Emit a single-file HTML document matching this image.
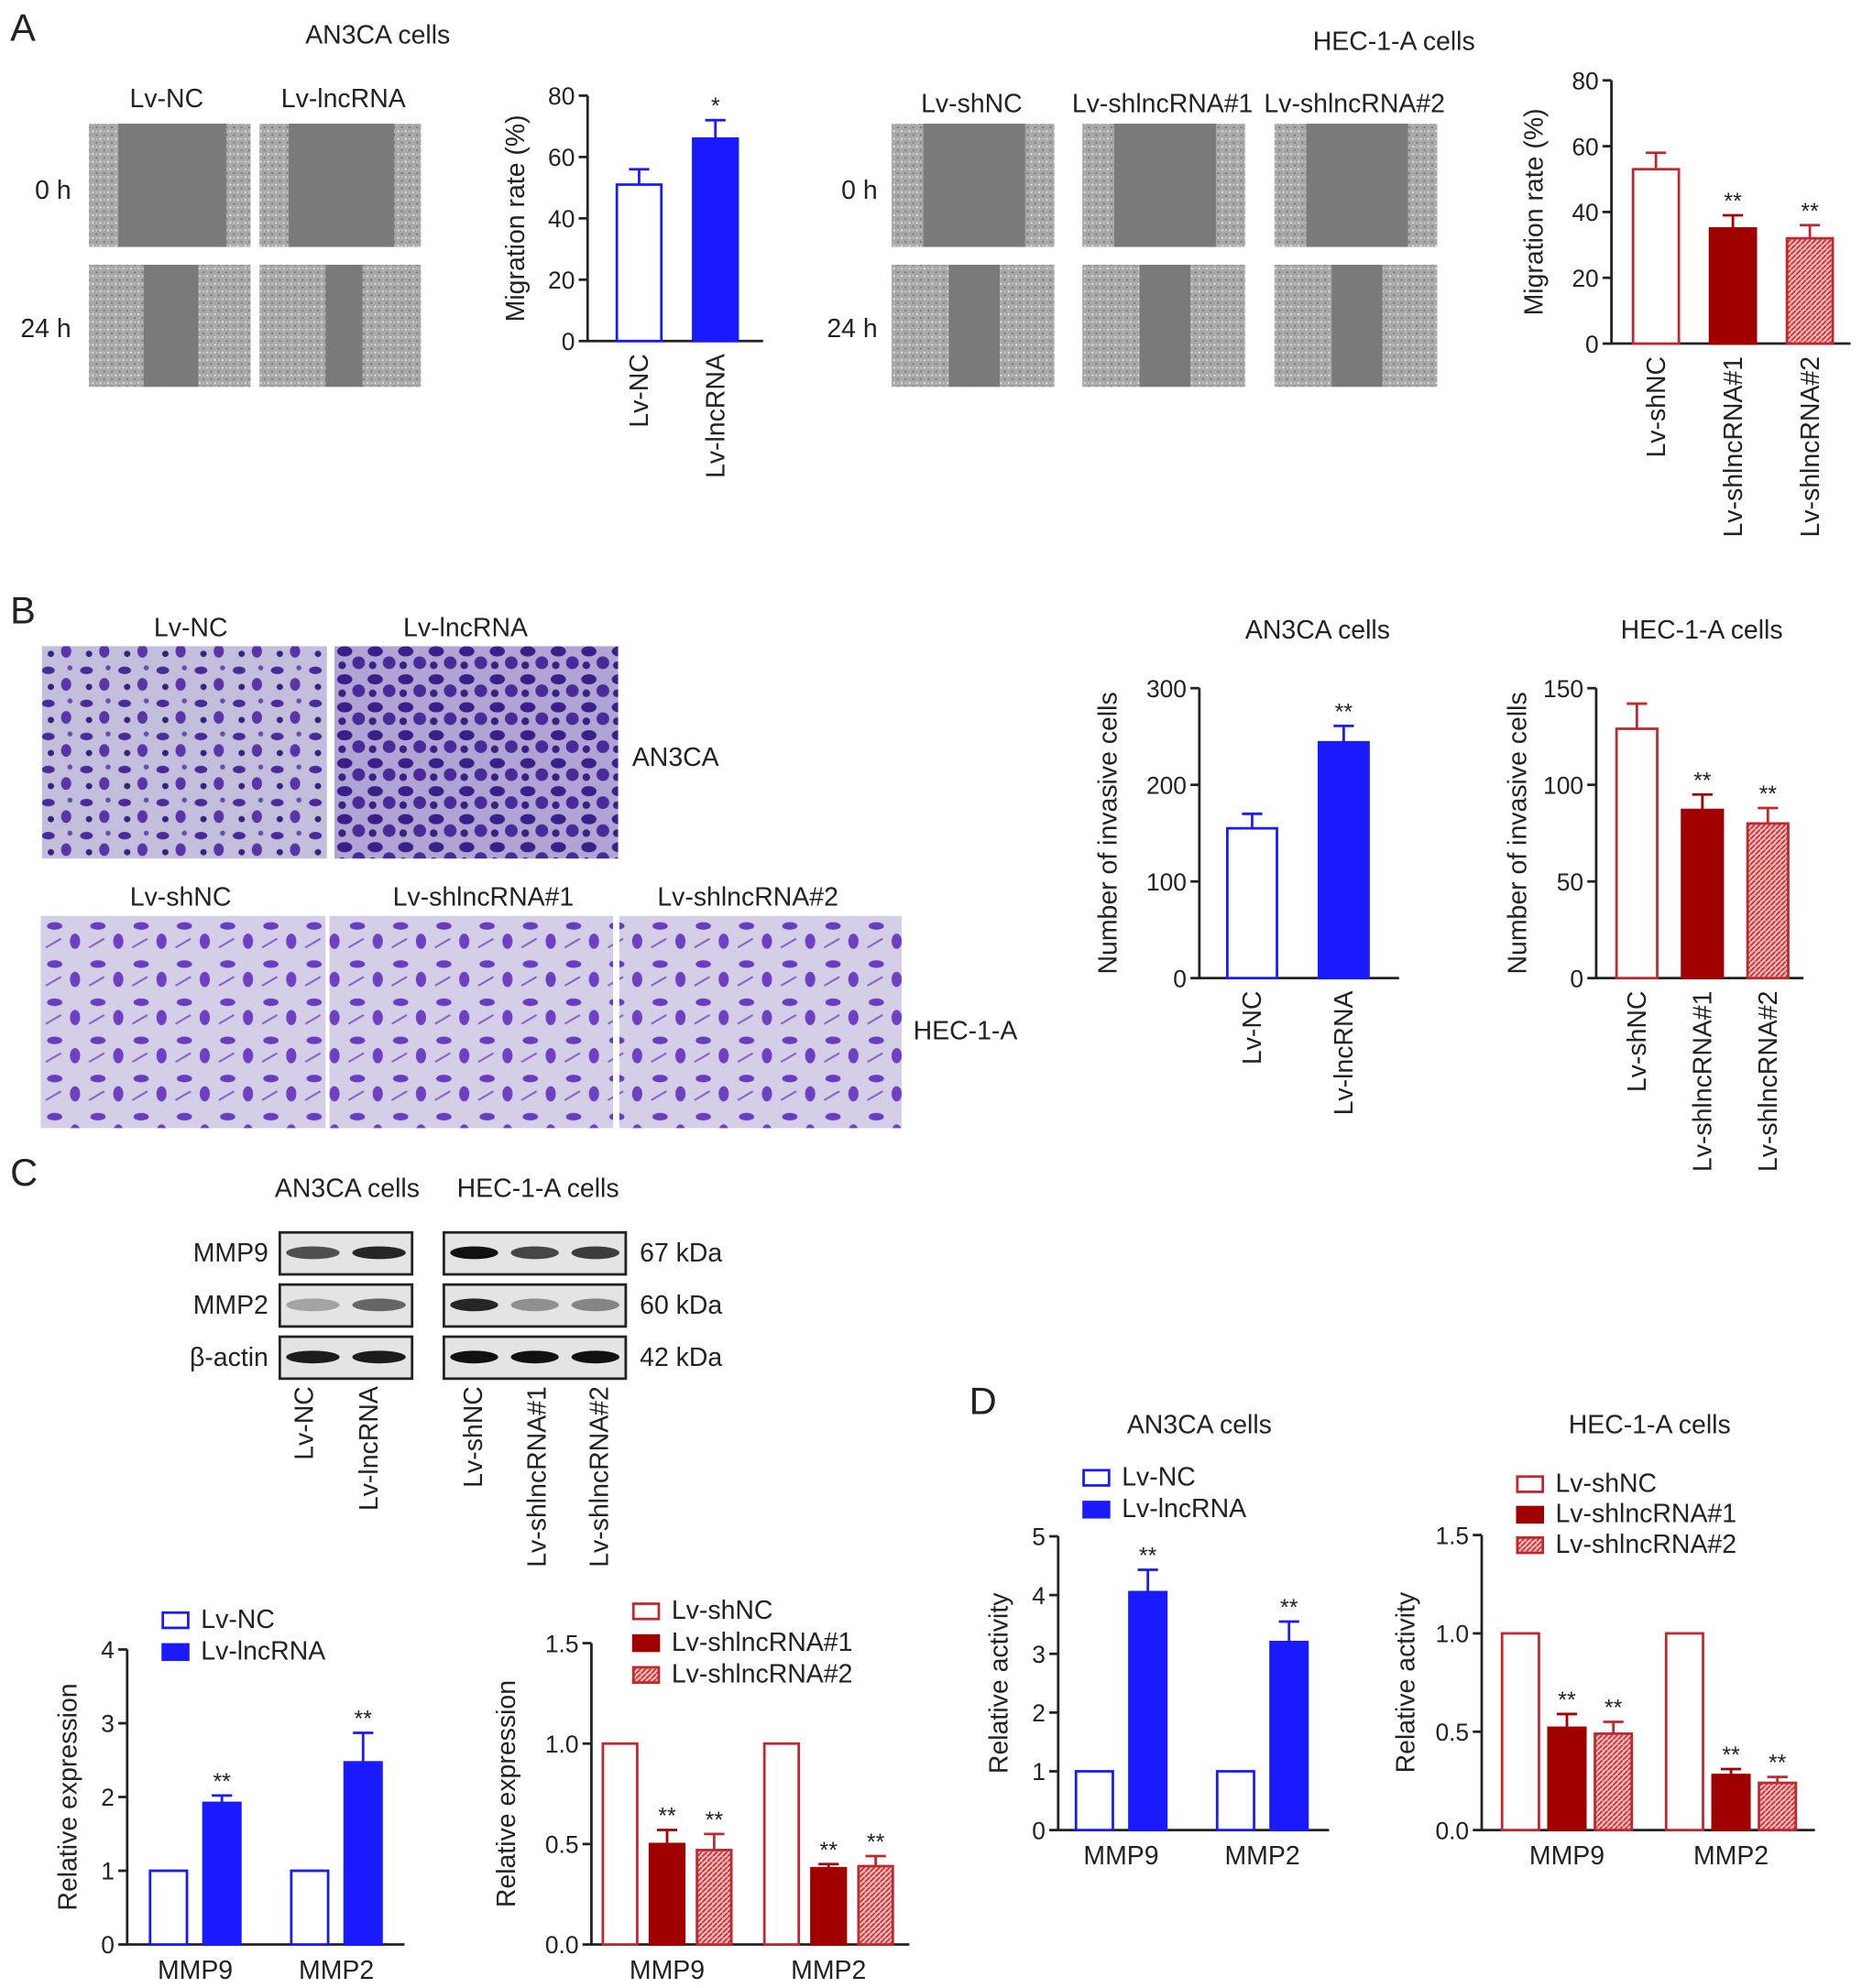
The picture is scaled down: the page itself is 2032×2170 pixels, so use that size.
<!DOCTYPE html>
<html><head><meta charset="utf-8"><style>
html,body{margin:0;padding:0;background:#fff}
svg{display:block}
text{font-family:"Liberation Sans",sans-serif;fill:#222}
</style></head><body>
<svg id="fig" width="2032" height="2170" viewBox="0 0 1464 1563" xmlns="http://www.w3.org/2000/svg">
<defs>
<pattern id="hatch" patternUnits="userSpaceOnUse" width="4" height="4"><rect width="4" height="4" fill="#f0b8b8"/><path d="M0,4 L4,0" stroke="#c0282d" stroke-width="1.2"/></pattern>
<pattern id="noise" patternUnits="userSpaceOnUse" width="6" height="6"><rect width="6" height="6" fill="#a8a8a8"/><circle cx="1" cy="1" r="0.8" fill="#e4e4e4"/><circle cx="4" cy="4" r="0.8" fill="#777"/><circle cx="4" cy="1" r="0.6" fill="#d4d4d4"/></pattern>
<pattern id="cells" patternUnits="userSpaceOnUse" width="30" height="26"><rect width="30" height="26" fill="#c4bedd"/><ellipse cx="8" cy="7" rx="5" ry="3" fill="#4a2a9a"/><ellipse cx="22" cy="18" rx="4" ry="5" fill="#5a34a8"/><circle cx="25" cy="5" r="2" fill="#6a4ab0"/><circle cx="10" cy="20" r="2.5" fill="#3a2080"/></pattern>
<pattern id="cells2" patternUnits="userSpaceOnUse" width="24" height="22"><rect width="24" height="22" fill="#b0a4d4"/><ellipse cx="7" cy="6" rx="6" ry="4" fill="#3a1e8a"/><ellipse cx="18" cy="15" rx="5" ry="5" fill="#4a2a9a"/><circle cx="5" cy="17" r="3" fill="#3a2080"/></pattern>
<pattern id="cells3" patternUnits="userSpaceOnUse" width="34" height="30"><rect width="34" height="30" fill="#d4cfe6"/><ellipse cx="9" cy="8" rx="6" ry="3" fill="#6a3cc0"/><ellipse cx="25" cy="20" rx="4" ry="6" fill="#7040c4"/><path d="M2,25 L14,18" stroke="#8a60c8" stroke-width="1.5"/></pattern>
</defs>
<g id="static"></g>
<g id="charts"></g>
</svg>
<script>
// ---------- chart data ----------
const A1_cats=['Lv-NC','Lv-lncRNA'];
const A1_vals=[51,66];
const A1_err=[5,6];
const A1_sig=['','*'];
const A1_ticks=[0,20,40,60,80];

const A2_cats=['Lv-shNC','Lv-shlncRNA#1','Lv-shlncRNA#2'];
const A2_vals=[53,35,32];
const A2_err=[5,4,4];
const A2_sig=['','**','**'];
const A2_ticks=[0,20,40,60,80];

const B1_cats=['Lv-NC','Lv-lncRNA'];
const B1_vals=[155,244];
const B1_err=[15,17];
const B1_sig=['','**'];
const B1_ticks=[0,100,200,300];

const B2_cats=['Lv-shNC','Lv-shlncRNA#1','Lv-shlncRNA#2'];
const B2_vals=[129,87,80];
const B2_err=[13,8,8];
const B2_sig=['','**','**'];
const B2_ticks=[0,50,100,150];

const groups=['MMP9','MMP2'];
const C1_vals=[[1,1.92],[1,2.47]];
const C1_err=[[0,0.1],[0,0.4]];
const C1_sig=[['','**'],['','**']];
const C1_ticks=['0','1','2','3','4'];

const C2_vals=[[1,0.5,0.47],[1,0.38,0.39]];
const C2_err=[[0,0.07,0.08],[0,0.02,0.05]];
const C2_sig=[['','**','**'],['','**','**']];
const C2_ticks=['0.0','0.5','1.0','1.5'];

const D1_vals=[[1,4.05],[1,3.2]];
const D1_err=[[0,0.38],[0,0.35]];
const D1_sig=[['','**'],['','**']];
const D1_ticks=['0','1','2','3','4','5'];

const D2_vals=[[1,0.52,0.49],[1,0.28,0.24]];
const D2_err=[[0,0.07,0.06],[0,0.03,0.03]];
const D2_sig=[['','**','**'],['','**','**']];
const D2_ticks=['0.0','0.5','1.0','1.5'];

const blueStyles=[{f:'#fff',s:'#1a1aff'},{f:'#1a1aff',s:'#1a1aff'}];
const redStyles=[{f:'#fff',s:'#c0282d'},{f:'#a00000',s:'#a00000'},{f:'url(#hatch)',s:'#c0282d'}];

const FS=20.5;
const NS='http://www.w3.org/2000/svg';
function mk(tag,attrs,parent,txt){const e=document.createElementNS(NS,tag);for(const k in attrs)e.setAttribute(k,attrs[k]);if(txt!==undefined)e.textContent=txt;parent.appendChild(e);return e;}
const C=document.getElementById('charts');
const S=document.getElementById('static');

function chart(o){
  const g=mk('g',{},C);
  
  
  const max=parseFloat(o.ticks[o.ticks.length-1]);
  const y=v=>o.y0-(v/max)*(o.y0-o.yT);
  const ax=mk('path',{d:`M${o.ax},${o.yT}V${o.y0}H${o.xEnd}`,stroke:'#222','stroke-width':2,fill:'none'},g);
  
  
  o.ticks.forEach(t=>{const v=parseFloat(t);
    mk('line',{x1:o.ax-7,x2:o.ax,y1:y(v),y2:y(v),stroke:'#222','stroke-width':2},g);
    const tl=mk('text',{x:o.ax-10,y:y(v)+7,'text-anchor':'end','font-size':19},g,t);
    
    
  });
  const yt=mk('text',{transform:`translate(${o.titleX},${(o.y0+o.yT)/2}) rotate(-90)`,'text-anchor':'middle','font-size':FS},g,o.title);
  
  
  const G=o.vals.length;
  for(let gi=0;gi<G;gi++){
    const row=o.vals[gi];
    for(let s=0;s<row.length;s++){
      const x=o.x0+gi*o.gstep+s*o.step, v=row[s], e=o.err[gi][s], st=o.styles[s];
      const b=mk('rect',{x:x,y:y(v),width:o.w,height:o.y0-y(v),fill:st.f,stroke:st.s,'stroke-width':2},g);
      
      
      if(e>0){const cx=x+o.w/2;
        mk('path',{d:`M${cx},${y(v)}V${y(v+e)}M${cx-8},${y(v+e)}H${cx+8}`,stroke:st.s,'stroke-width':2,fill:'none'},g);}
      const sg=o.sig[gi][s];
      if(sg){const t=mk('text',{x:x+o.w/2,y:y(v+e)-5,'text-anchor':'middle','font-size':18},g,sg);
        
        }
      if(o.rot){const cx=x+o.w/2;
        const t=mk('text',{transform:`translate(${cx+7},${o.y0+10}) rotate(-90)`,'text-anchor':'end','font-size':FS},g,o.cats[s]);
        
        }
    }
    if(!o.rot){const n=row.length;const cx=o.x0+gi*o.gstep+((n-1)*o.step+o.w)/2;
      const t=mk('text',{x:cx,y:o.y0+27,'text-anchor':'middle','font-size':FS},g,groups[gi]);
      
      }
  }
  if(o.legend){o.legend.forEach((l,i)=>{
    const ly=o.ly+i*o.lstep;
    const r=mk('rect',{x:o.lx,y:ly-12,width:20,height:12,fill:o.styles[i].f,stroke:o.styles[i].s,'stroke-width':2},g);
    
    
    const t=mk('text',{x:o.lx+30,y:ly,'font-size':FS},g,l);
    
    
  });}
}
function single(vals,err,sig){return {vals:[vals],err:[err],sig:[sig]};}

chart(Object.assign({name:'chart-a-an3ca-migration',ax:462,y0:268,yT:75,xEnd:600,ticks:A1_ticks,title:'Migration rate (%)',titleX:412,x0:485,step:60,w:35,gstep:0,styles:blueStyles,rot:true,cats:A1_cats},single(A1_vals,A1_err,A1_sig)));
chart(Object.assign({name:'chart-a-hec-migration',ax:1267,y0:270,yT:63,xEnd:1455,ticks:A2_ticks,title:'Migration rate (%)',titleX:1213,x0:1284,step:60.5,w:36,gstep:0,styles:redStyles,rot:true,cats:A2_cats},single(A2_vals,A2_err,A2_sig)));
chart(Object.assign({name:'chart-b-an3ca-invasion',ax:943,y0:769,yT:541,xEnd:1100,ticks:B1_ticks,title:'Number of invasive cells',titleX:878,x0:965,step:72,w:39,gstep:0,styles:blueStyles,rot:true,cats:B1_cats},single(B1_vals,B1_err,B1_sig)));
chart(Object.assign({name:'chart-b-hec-invasion',ax:1255,y0:769,yT:541,xEnd:1418,ticks:B2_ticks,title:'Number of invasive cells',titleX:1200,x0:1271,step:51.5,w:32,gstep:0,styles:redStyles,rot:true,cats:B2_cats},single(B2_vals,B2_err,B2_sig)));
chart({name:'chart-c-an3ca-expression',ax:100,y0:1529,yT:1297,xEnd:318,ticks:C1_ticks,title:'Relative expression',titleX:60,x0:118,step:42,w:29,gstep:111,styles:blueStyles,vals:C1_vals,err:C1_err,sig:C1_sig,legend:['Lv-NC','Lv-lncRNA'],lx:128,ly:1280,lstep:25});
chart({name:'chart-c-hec-expression',ax:465,y0:1529,yT:1292,xEnd:715,ticks:C2_ticks,title:'Relative expression',titleX:405,x0:474,step:37,w:27,gstep:127,styles:redStyles,vals:C2_vals,err:C2_err,sig:C2_sig,legend:['Lv-shNC','Lv-shlncRNA#1','Lv-shlncRNA#2'],lx:498,ly:1273,lstep:25});
chart({name:'chart-d-an3ca-activity',ax:832,y0:1439,yT:1208,xEnd:1045,ticks:D1_ticks,title:'Relative activity',titleX:792,x0:846,step:42,w:29,gstep:111,styles:blueStyles,vals:D1_vals,err:D1_err,sig:D1_sig,legend:['Lv-NC','Lv-lncRNA'],lx:852,ly:1168,lstep:25});
chart({name:'chart-d-hec-activity',ax:1165,y0:1439,yT:1207,xEnd:1427,ticks:D2_ticks,title:'Relative activity',titleX:1112,x0:1181,step:36.5,w:29,gstep:129,styles:redStyles,vals:D2_vals,err:D2_err,sig:D2_sig,legend:['Lv-shNC','Lv-shlncRNA#1','Lv-shlncRNA#2'],lx:1193,ly:1173,lstep:24});

// ---------- static panels ----------
function label(x,y,t,size,name,anchor){const e=mk('text',{x:x,y:y,'font-size':size,'text-anchor':anchor||'start'},S,t);return e;}
label(8,32,'A',30,'panel-label-a');label(8,490,'B',30,'panel-label-b');label(8,932,'C',30,'panel-label-c');label(762,1112,'D',30,'panel-label-d');
label(297,34,'AN3CA cells',FS,'title','middle');label(1096,39,'HEC-1-A cells',FS,'title','middle');
label(1036,502,'AN3CA cells',FS,'title','middle');label(1338,502,'HEC-1-A cells',FS,'title','middle');
label(943,1127,'AN3CA cells',FS,'title','middle');label(1297,1127,'HEC-1-A cells',FS,'title','middle');

function wound(x,y,w,h,gx,gw,name){const g=mk('g',{},S);
  mk('rect',{x:x,y:y,width:w,height:h,fill:'url(#noise)'},g);mk('rect',{x:gx,y:y,width:gw,height:h,fill:'#7a7a7a'},g);}
wound(70,97,127,97,93,85,'wound-image');wound(204,97,127,97,227,83,'wound-image');
wound(70,208,127,96,113,43,'wound-image');wound(204,208,127,96,256,29,'wound-image');
label(131,84,'Lv-NC',FS,'column-label','middle');label(270,84,'Lv-lncRNA',FS,'column-label','middle');
label(56,156,'0 h',FS,'row-label','end');label(56,265,'24 h',FS,'row-label','end');
[[701,'Lv-shNC'],[851,'Lv-shlncRNA#1'],[1002,'Lv-shlncRNA#2']].forEach(([x,t],i)=>{
  label(x+63,88,t,FS,'column-label','middle');
  wound(x,97,128,97,x+25,80,'wound-image');
  wound(x,208,128,96,x+45,40,'wound-image');});
label(690,156,'0 h',FS,'row-label','end');label(690,265,'24 h',FS,'row-label','end');
function cells(x,y,w,h,p,name){const r=mk('rect',{x:x,y:y,width:w,height:h,fill:p},S);}
cells(33,508,224,167,'url(#cells)','transwell-image');cells(263,508,223,167,'url(#cells2)','transwell-image');
label(150,500,'Lv-NC',FS,'column-label','middle');label(366,500,'Lv-lncRNA',FS,'column-label','middle');label(497,602,'AN3CA',FS,'row-label');
cells(32,720,224,167,'url(#cells3)','transwell-image');cells(259,720,223,167,'url(#cells3)','transwell-image');cells(487,720,222,167,'url(#cells3)','transwell-image');
label(142,712,'Lv-shNC',FS,'column-label','middle');label(380,712,'Lv-shlncRNA#1',FS,'column-label','middle');label(588,712,'Lv-shlncRNA#2',FS,'column-label','middle');label(718,817,'HEC-1-A',FS,'row-label');
label(273,941,'AN3CA cells',FS,'title','middle');label(423,941,'HEC-1-A cells',FS,'title','middle');
const rows=[['MMP9','67 kDa',969],['MMP2','60 kDa',1010],['β-actin','42 kDa',1051]];
const intens=[[[0.7,0.9],[1,0.75,0.8]],[[0.3,0.6],[0.9,0.4,0.45]],[[0.95,0.95],[1,1,1]]];
rows.forEach((r,ri)=>{
  label(211,r[2]+23,r[0],FS,'blot-row-label','end');label(503,r[2]+23,r[1],FS,'blot-size-label');
  [[220,104,2],[349,143,3]].forEach(([bx,bw,n],bi)=>{
    const b=mk('rect',{x:bx,y:r[2],width:bw,height:33,fill:'#e4e4e4',stroke:'#222','stroke-width':2},S);
    
    for(let k=0;k<n;k++){const cx=bx+bw/(n)*(k+0.5);const a=intens[ri][bi][k];
      mk('ellipse',{cx:cx,cy:r[2]+16,rx:bw/n/2-5,ry:5,fill:'#111','fill-opacity':a},S);}
  });
});
[[239,'Lv-NC'],[290,'Lv-lncRNA'],[372,'Lv-shNC'],[422,'Lv-shlncRNA#1'],[471,'Lv-shlncRNA#2']].forEach(([x,t])=>{
  const e=mk('text',{transform:`translate(${x+7},1090) rotate(-90)`,'text-anchor':'end','font-size':FS},S,t);
  });
</script>
</body></html>
